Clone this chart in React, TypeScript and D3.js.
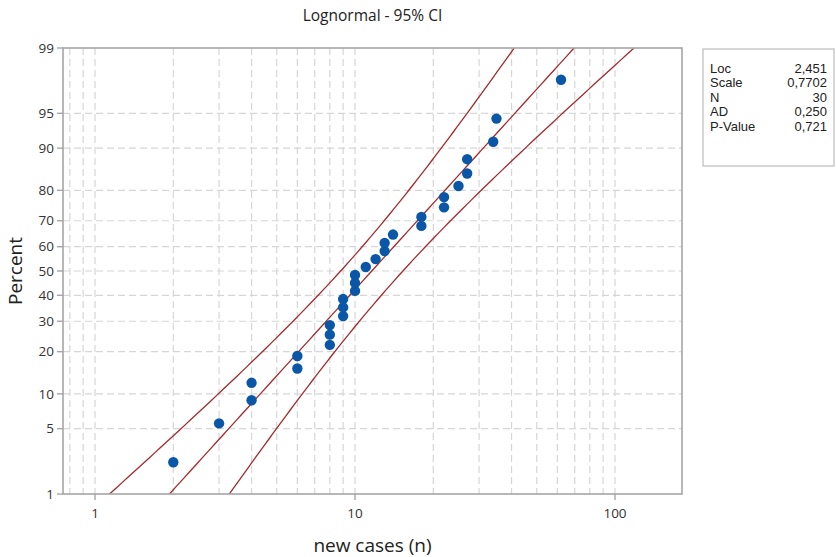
import * as d3 from 'd3';
import { useEffect, useRef } from 'react';

// observed new cases, sorted (n = 30)
const newCases = [2, 3, 4, 4, 6, 6, 8, 8, 8, 9, 9, 9, 10, 10, 10, 11, 12, 13, 13, 14, 18, 18, 22, 22, 25, 27, 27, 34, 35, 62];
const percentTicks = [1, 5, 10, 20, 30, 40, 50, 60, 70, 80, 90, 95, 99];
const xTicks = [1, 10, 100];
const xGrid = [0.8, 0.9, 1, 2, 3, 4, 5, 6, 7, 8, 9, 10, 20, 30, 40, 50, 60, 70, 80, 90, 100];
const statLabels = ['Loc', 'Scale', 'N', 'AD', 'P-Value'];
const statValues = ['2,451', '0,7702', '30', '0,250', '0,721'];
const fitLoc = 2.451;
const fitScale = 0.7702;

// inverse standard normal (Acklam)
function normInv(p: number) {
  const a = [-39.69683028665376, 220.9460984245205, -275.9285104469687, 138.357751867269, -30.66479806614716, 2.506628277459239];
  const b = [-54.47609879822406, 161.5858368580409, -155.6989798598866, 66.80131188771972, -13.28068155211918];
  const c = [-0.007784894002430293, -0.3223964580411365, -2.400758277161838, -2.549732539343734, 4.374664141464968, 2.938163982698783];
  const d = [0.007784695709041462, 0.3224671290700398, 2.445134137142996, 3.754408661907416];
  const pl = 0.02425;
  let q, r;
  if (p < pl) {
    q = Math.sqrt(-2 * Math.log(p));
    return (((((c[0] * q + c[1]) * q + c[2]) * q + c[3]) * q + c[4]) * q + c[5]) / ((((d[0] * q + d[1]) * q + d[2]) * q + d[3]) * q + 1);
  }
  if (p > 1 - pl) {
    q = Math.sqrt(-2 * Math.log(1 - p));
    return -(((((c[0] * q + c[1]) * q + c[2]) * q + c[3]) * q + c[4]) * q + c[5]) / ((((d[0] * q + d[1]) * q + d[2]) * q + d[3]) * q + 1);
  }
  q = p - 0.5;
  r = q * q;
  return (((((a[0] * r + a[1]) * r + a[2]) * r + a[3]) * r + a[4]) * r + a[5]) * q / (((((b[0] * r + b[1]) * r + b[2]) * r + b[3]) * r + b[4]) * r + 1);
}

function ProbPlot() {
  const ref = useRef<SVGSVGElement>(null);

  useEffect(() => {
    const width = 836;
    const height = 557;
    const left = 63, right = 682, top = 48, bottom = 494;
    const font = "'Segoe UI', 'Open Sans', 'Noto Sans', sans-serif";
    const svg = d3.select(ref.current);
    svg.selectAll('*').remove();
    svg.attr('width', width).attr('height', height);

    svg.append('rect').attr('width', width).attr('height', height).attr('fill', '#fff');

    const x = d3.scaleLog().domain([0.753, 181]).range([left, right]);
    const y = d3.scaleLinear().domain([normInv(0.01), normInv(0.99)]).range([bottom, top]);

    svg.append('defs').append('clipPath').attr('id', 'plot-clip')
      .append('rect').attr('x', left).attr('y', top).attr('width', right - left).attr('height', bottom - top);

    // grid
    const grid = svg.append('g').attr('stroke', '#d6d6d6').attr('stroke-width', 1.2).attr('stroke-dasharray', '7,4');
    grid.selectAll('line.v').data(xGrid).enter().append('line')
      .attr('x1', d => x(d)).attr('x2', d => x(d)).attr('y1', top).attr('y2', bottom);
    grid.selectAll('line.h').data(percentTicks.slice(1, -1)).enter().append('line')
      .attr('x1', left).attr('x2', right).attr('y1', d => y(normInv(d / 100))).attr('y2', d => y(normInv(d / 100)));

    // fit + 95% CI
    const n = newCases.length;
    const zs = d3.range(-2.8, 2.81, 0.05);
    const se = (z: number) => fitScale * Math.sqrt(1 / n + (z * z) / (2 * n));
    const line = d3.line<number[]>().x(d => x(d[0])).y(d => y(d[1]));
    const curves = [
      zs.map(z => [Math.exp(fitLoc + fitScale * z), z]),
      zs.map(z => [Math.exp(fitLoc + fitScale * z - 1.96 * se(z)), z]),
      zs.map(z => [Math.exp(fitLoc + fitScale * z + 1.96 * se(z)), z])
    ];
    svg.append('g').attr('clip-path', 'url(#plot-clip)')
      .selectAll('path').data(curves).enter().append('path')
      .attr('d', d => line(d))
      .attr('fill', 'none')
      .attr('stroke', '#a52a2c')
      .attr('stroke-width', 1.3);

    // points, median ranks
    svg.append('g').selectAll('circle').data(newCases).enter().append('circle')
      .attr('cx', d => x(d))
      .attr('cy', (d, i) => y(normInv((i + 1 - 0.3) / (n + 0.4))))
      .attr('r', 5.2)
      .attr('fill', '#0a57a8');

    // frame
    svg.append('rect').attr('x', left).attr('y', top).attr('width', right - left).attr('height', bottom - top)
      .attr('fill', 'none').attr('stroke', '#a6a6a6').attr('stroke-width', 1.6);

    // y axis ticks
    const yAx = svg.append('g');
    yAx.selectAll('line').data(percentTicks).enter().append('line')
      .attr('x1', left - 6).attr('x2', left).attr('y1', d => y(normInv(d / 100))).attr('y2', d => y(normInv(d / 100)))
      .attr('stroke', '#a6a6a6').attr('stroke-width', 1.4);
    yAx.selectAll('text').data(percentTicks).enter().append('text')
      .attr('x', left - 9).attr('y', d => y(normInv(d / 100)))
      .attr('dy', '0.35em').attr('text-anchor', 'end')
      .attr('font-family', font).attr('font-size', 13.5).attr('fill', '#333')
      .text(d => d);

    // x axis ticks
    const xAx = svg.append('g');
    xAx.selectAll('line').data(xTicks).enter().append('line')
      .attr('x1', d => x(d)).attr('x2', d => x(d)).attr('y1', bottom).attr('y2', bottom + 6)
      .attr('stroke', '#a6a6a6').attr('stroke-width', 1.4);
    xAx.selectAll('text').data(xTicks).enter().append('text')
      .attr('x', d => x(d)).attr('y', bottom + 24)
      .attr('text-anchor', 'middle')
      .attr('font-family', font).attr('font-size', 13.5).attr('fill', '#333')
      .text(d => d);

    // titles
    svg.append('text').attr('x', (left + right) / 2).attr('y', 21).attr('text-anchor', 'middle')
      .attr('font-family', font).attr('font-size', 15.5).attr('fill', '#222').text('Lognormal - 95% CI');
    svg.append('text').attr('x', (left + right) / 2).attr('y', 552).attr('text-anchor', 'middle')
      .attr('font-family', font).attr('font-size', 19).attr('fill', '#222').text('new cases (n)');
    svg.append('text').attr('transform', `translate(22, ${(top + bottom) / 2}) rotate(-90)`).attr('text-anchor', 'middle')
      .attr('font-family', font).attr('font-size', 19).attr('fill', '#222').text('Percent');

    // stats box
    const boxFont = "'Liberation Sans', Arial, sans-serif";
    const box = svg.append('g');
    box.append('rect').attr('x', 703).attr('y', 49).attr('width', 131).attr('height', 117)
      .attr('fill', '#fff').attr('stroke', '#bdbdbd').attr('stroke-width', 1.2);
    box.selectAll('text.l').data(statLabels).enter().append('text')
      .attr('x', 710).attr('y', (d, i) => 68 + i * 14.6).attr('dy', '0.35em')
      .attr('font-family', boxFont).attr('font-size', 13).attr('fill', '#222').text(d => d);
    box.selectAll('text.v').data(statValues).enter().append('text')
      .attr('x', 827).attr('y', (d, i) => 68 + i * 14.6).attr('dy', '0.35em').attr('text-anchor', 'end')
      .attr('font-family', boxFont).attr('font-size', 13).attr('fill', '#222').text(d => d);
  }, []);

  return <svg ref={ref} style={{ position: 'absolute', left: 0, top: 0, display: 'block' }}></svg>;
}

export default function App() {
  return <ProbPlot />;
}
